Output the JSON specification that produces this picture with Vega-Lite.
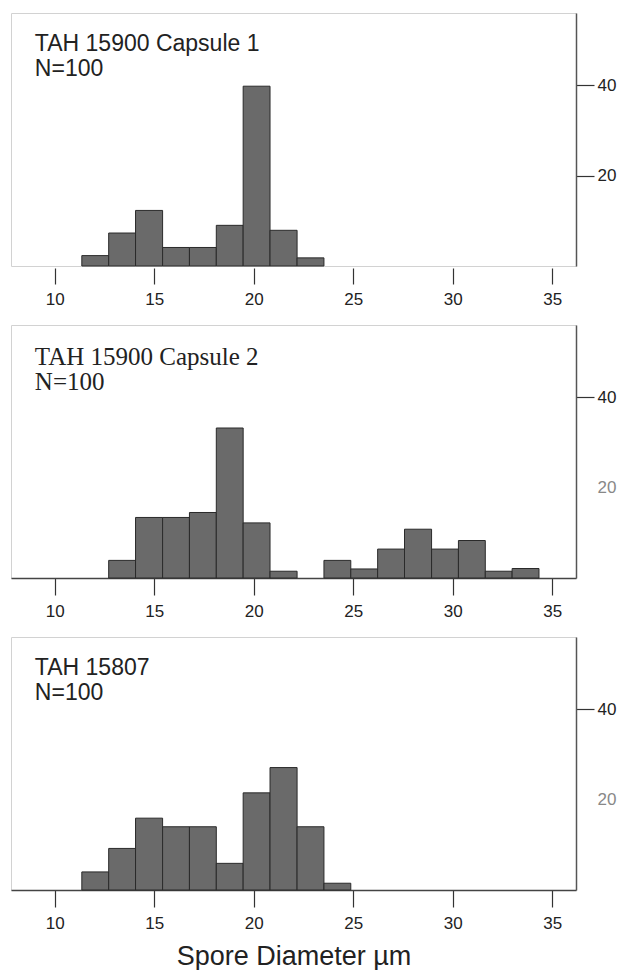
{
  "$schema": "https://vega.github.io/schema/vega-lite/v6.json",
  "padding": {"left": 10, "top": 12, "right": 0, "bottom": 0},
  "background": "white",
  "bounds": "flush",
  "spacing": 59,
  "config": {
    "view": {"stroke": "#d2d2d2", "strokeWidth": 1},
    "axis": {"grid": false, "labelFont": "Liberation Sans", "labelFontSize": 17, "labelColor": "#222", "titleFont": "Liberation Sans"}
  },
  "datasets": {
    "bins": [
      {"sample": "A", "bin_start": 11.36, "bin_end": 12.71, "count": 2.3},
      {"sample": "A", "bin_start": 12.71, "bin_end": 14.06, "count": 7.3},
      {"sample": "A", "bin_start": 14.06, "bin_end": 15.42, "count": 12.3},
      {"sample": "A", "bin_start": 15.42, "bin_end": 16.77, "count": 4.1},
      {"sample": "A", "bin_start": 16.77, "bin_end": 18.12, "count": 4.1},
      {"sample": "A", "bin_start": 18.12, "bin_end": 19.47, "count": 9.0},
      {"sample": "A", "bin_start": 19.47, "bin_end": 20.82, "count": 39.8},
      {"sample": "A", "bin_start": 20.82, "bin_end": 22.18, "count": 7.9},
      {"sample": "A", "bin_start": 22.18, "bin_end": 23.53, "count": 1.8},
      {"sample": "B", "bin_start": 12.71, "bin_end": 14.06, "count": 3.9},
      {"sample": "B", "bin_start": 14.06, "bin_end": 15.42, "count": 13.4},
      {"sample": "B", "bin_start": 15.42, "bin_end": 16.77, "count": 13.4},
      {"sample": "B", "bin_start": 16.77, "bin_end": 18.12, "count": 14.5},
      {"sample": "B", "bin_start": 18.12, "bin_end": 19.47, "count": 33.2},
      {"sample": "B", "bin_start": 19.47, "bin_end": 20.82, "count": 12.2},
      {"sample": "B", "bin_start": 20.82, "bin_end": 22.18, "count": 1.5},
      {"sample": "B", "bin_start": 23.53, "bin_end": 24.88, "count": 3.9},
      {"sample": "B", "bin_start": 24.88, "bin_end": 26.23, "count": 2.0},
      {"sample": "B", "bin_start": 26.23, "bin_end": 27.58, "count": 6.4},
      {"sample": "B", "bin_start": 27.58, "bin_end": 28.94, "count": 10.8},
      {"sample": "B", "bin_start": 28.94, "bin_end": 30.29, "count": 6.4},
      {"sample": "B", "bin_start": 30.29, "bin_end": 31.64, "count": 8.3},
      {"sample": "B", "bin_start": 31.64, "bin_end": 32.99, "count": 1.5},
      {"sample": "B", "bin_start": 32.99, "bin_end": 34.34, "count": 2.1},
      {"sample": "C", "bin_start": 11.36, "bin_end": 12.71, "count": 4.0},
      {"sample": "C", "bin_start": 12.71, "bin_end": 14.06, "count": 9.2},
      {"sample": "C", "bin_start": 14.06, "bin_end": 15.42, "count": 15.9},
      {"sample": "C", "bin_start": 15.42, "bin_end": 16.77, "count": 14.0},
      {"sample": "C", "bin_start": 16.77, "bin_end": 18.12, "count": 14.0},
      {"sample": "C", "bin_start": 18.12, "bin_end": 19.47, "count": 5.9},
      {"sample": "C", "bin_start": 19.47, "bin_end": 20.82, "count": 21.5},
      {"sample": "C", "bin_start": 20.82, "bin_end": 22.18, "count": 27.1},
      {"sample": "C", "bin_start": 22.18, "bin_end": 23.53, "count": 14.0},
      {"sample": "C", "bin_start": 23.53, "bin_end": 24.88, "count": 1.5}
    ],
    "labels": [
      {"sample": "A", "label": "TAH 15900 Capsule 1\nN=100"},
      {"sample": "B", "label": "TAH 15900 Capsule 2\nN=100"},
      {"sample": "C", "label": "TAH 15807\nN=100"}
    ]
  },
  "vconcat": [
    {
      "width": 565,
      "height": 253,
      "layer": [
        {
          "data": {"name": "bins"},
          "transform": [{"filter": "datum.sample === 'A'"}],
          "mark": {"type": "bar", "fill": "#6a6a6a", "stroke": "#2a2a2a", "strokeWidth": 1},
          "encoding": {
            "x": {"field": "bin_start", "type": "quantitative", "scale": {"domain": [7.8, 36.2], "nice": false, "zero": false},
                  "axis": {"values": [10, 15, 20, 25, 30, 35], "domain": false, "offset": 2, "tickSize": 16, "tickColor": "#333", "tickWidth": 1.2, "labelPadding": 7, "title": null}},
            "x2": {"field": "bin_end"},
            "y": {"field": "count", "type": "quantitative", "scale": {"domain": [0, 56], "nice": false},
                  "axis": {"orient": "right", "values": [20, 40], "title": null, "domainColor": "#555", "domainWidth": 1.5, "tickSize": 18, "tickColor": "#333", "tickWidth": 1.2, "labelPadding": 3}},
            "y2": {"datum": 0}
          }
        },
        {
          "data": {"name": "labels"},
          "transform": [{"filter": "datum.sample === 'A'"}],
          "mark": {"type": "text", "align": "left", "baseline": "top", "font": "Liberation Sans", "fontSize": 23, "lineHeight": 25, "lineBreak": "\n", "color": "#222"},
          "encoding": {
            "x": {"datum": 9.0},
            "y": {"datum": 51.5},
            "text": {"field": "label"}
          }
        }
      ]
    },
    {
      "width": 565,
      "height": 253,
      "layer": [
        {
          "data": {"name": "bins"},
          "transform": [{"filter": "datum.sample === 'B'"}],
          "mark": {"type": "bar", "fill": "#6a6a6a", "stroke": "#2a2a2a", "strokeWidth": 1},
          "encoding": {
            "x": {"field": "bin_start", "type": "quantitative", "scale": {"domain": [7.8, 36.2], "nice": false, "zero": false},
                  "axis": {"values": [10, 15, 20, 25, 30, 35], "domain": true, "domainColor": "#444", "domainWidth": 1.5, "tickSize": 17, "tickColor": "#333", "tickWidth": 1.2, "labelPadding": 8, "title": null}},
            "x2": {"field": "bin_end"},
            "y": {"field": "count", "type": "quantitative", "scale": {"domain": [0, 56], "nice": false},
                  "axis": {"orient": "right", "values": [20, 40], "title": null, "domainColor": "#555", "domainWidth": 1.5, "tickSize": 18, "tickColor": "#333", "tickWidth": 1.2, "labelPadding": 3,
                           "tickOpacity": {"condition": {"test": "datum.value === 20", "value": 0}, "value": 1},
                           "labelColor": {"condition": {"test": "datum.value === 20", "value": "#888"}, "value": "#222"}}},
            "y2": {"datum": 0}
          }
        },
        {
          "data": {"name": "labels"},
          "transform": [{"filter": "datum.sample === 'B'"}],
          "mark": {"type": "text", "align": "left", "baseline": "top", "font": "Liberation Serif", "fontSize": 25, "lineHeight": 25, "lineBreak": "\n", "color": "#222"},
          "encoding": {
            "x": {"datum": 9.0},
            "y": {"datum": 51.5},
            "text": {"field": "label"}
          }
        }
      ]
    },
    {
      "width": 565,
      "height": 253,
      "layer": [
        {
          "data": {"name": "bins"},
          "transform": [{"filter": "datum.sample === 'C'"}],
          "mark": {"type": "bar", "fill": "#6a6a6a", "stroke": "#2a2a2a", "strokeWidth": 1},
          "encoding": {
            "x": {"field": "bin_start", "type": "quantitative", "scale": {"domain": [7.8, 36.2], "nice": false, "zero": false},
                  "axis": {"values": [10, 15, 20, 25, 30, 35], "domain": true, "domainColor": "#444", "domainWidth": 1.5, "tickSize": 17, "tickColor": "#333", "tickWidth": 1.2, "labelPadding": 8, "title": "Spore Diameter µm", "titleFontSize": 27, "titleFontWeight": "normal", "titleColor": "#222", "titlePadding": 12}},
            "x2": {"field": "bin_end"},
            "y": {"field": "count", "type": "quantitative", "scale": {"domain": [0, 56], "nice": false},
                  "axis": {"orient": "right", "values": [20, 40], "title": null, "domainColor": "#555", "domainWidth": 1.5, "tickSize": 18, "tickColor": "#333", "tickWidth": 1.2, "labelPadding": 3,
                           "tickOpacity": {"condition": {"test": "datum.value === 20", "value": 0}, "value": 1},
                           "labelColor": {"condition": {"test": "datum.value === 20", "value": "#888"}, "value": "#222"}}},
            "y2": {"datum": 0}
          }
        },
        {
          "data": {"name": "labels"},
          "transform": [{"filter": "datum.sample === 'C'"}],
          "mark": {"type": "text", "align": "left", "baseline": "top", "font": "Liberation Sans", "fontSize": 23, "lineHeight": 25, "lineBreak": "\n", "color": "#222"},
          "encoding": {
            "x": {"datum": 9.0},
            "y": {"datum": 51.5},
            "text": {"field": "label"}
          }
        }
      ]
    }
  ]
}
